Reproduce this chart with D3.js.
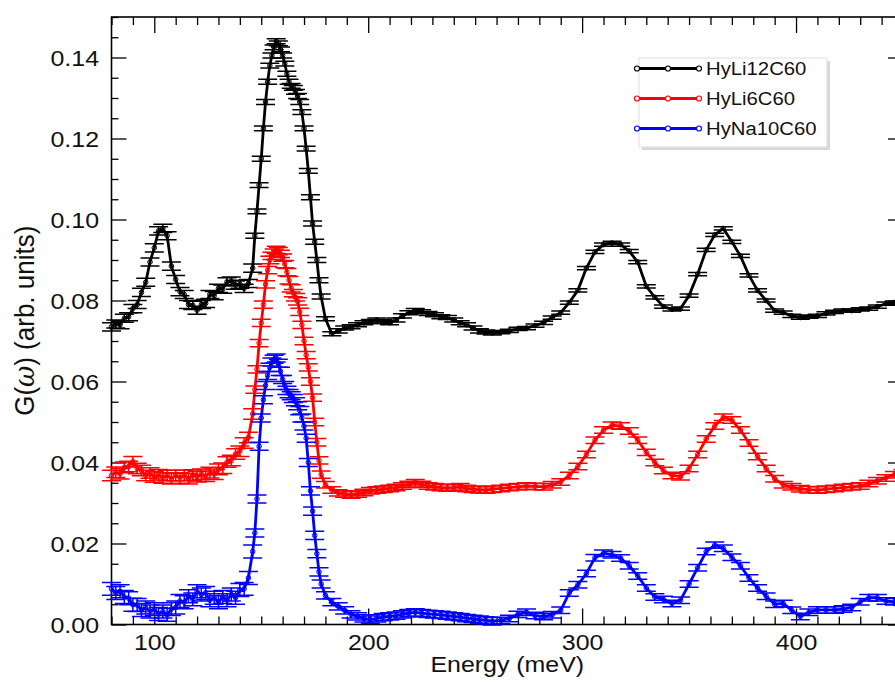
<!DOCTYPE html>
<html><head><meta charset="utf-8">
<script src="https://cdn.jsdelivr.net/npm/d3@7"></script>
<style>body{margin:0;background:#fff}svg{display:block}</style>
</head><body><svg id="c" width="895" height="682"></svg>
<script>
// ---------- data ----------
const energies = [
 80,82,84,86,88,90,92,94,96,98,100,102,104,106,108,110,112,114,116,118,120,122,124,126,128,130,132,134,136,138,140,142,144,146,
 147,148,149,150,151,152,153,154,155,156,157,158,159,160,161,162,163,164,165,166,167,168,169,170,171,172,173,174,175,176,177,178,
 180,183,186,189,192,195,198,201,204,207,210,213,216,219,222,225,228,231,234,237,240,243,246,249,252,255,258,
 262,266,270,274,278,282,286,290,294,298,302,306,310,314,318,322,326,330,334,338,342,346,350,354,358,362,366,370,374,378,382,386,390,394,398,402,406,410,414,418,422,426,430,434,438,442,446,450
];
const hyLi12C60 = [
 0.0735,0.0742,0.0740,0.0756,0.0760,0.0780,0.0790,0.0820,0.0845,0.0895,0.0930,0.0972,0.0978,0.0960,0.0885,0.0852,0.0822,0.0815,0.0790,0.0788,0.0776,0.0790,0.0793,0.0815,0.0812,0.0830,0.0828,0.0846,0.0848,0.0838,0.0840,0.0830,0.0842,0.0880,
 0.0960,0.1020,0.1085,0.1150,0.1225,0.1290,0.1340,0.1380,0.1405,0.1425,0.1440,0.1435,0.1420,0.1405,0.1385,0.1360,0.1340,0.1330,0.1325,0.1315,0.1305,0.1290,0.1265,0.1225,0.1175,0.1120,0.1055,0.0990,0.0945,0.0900,0.0850,0.0810,
 0.0755,0.0718,0.0725,0.0732,0.0735,0.0740,0.0745,0.0748,0.0752,0.0748,0.0745,0.0752,0.0762,0.0770,0.0775,0.0772,0.0768,0.0765,0.0760,0.0758,0.0752,0.0745,0.0740,0.0732,0.0725,0.0722,0.0720,
 0.0722,0.0725,0.0730,0.0732,0.0738,0.0745,0.0758,0.0770,0.0795,0.0825,0.0880,0.0920,0.0938,0.0942,0.0938,0.0922,0.0895,0.0835,0.0808,0.0785,0.0778,0.0780,0.0812,0.0865,0.0925,0.0962,0.0978,0.0945,0.0910,0.0862,0.0825,0.0800,0.0775,0.0770,0.0762,0.0758,0.0760,0.0762,0.0768,0.0772,0.0775,0.0775,0.0778,0.0780,0.0785,0.0792,0.0795,0.0795
];
const hyLi6C60 = [
 0.0368,0.0376,0.0372,0.0388,0.0390,0.0402,0.0385,0.0380,0.0368,0.0374,0.0364,0.0370,0.0362,0.0368,0.0360,0.0368,0.0362,0.0368,0.0360,0.0369,0.0365,0.0371,0.0366,0.0375,0.0371,0.0383,0.0386,0.0401,0.0405,0.0421,0.0428,0.0448,0.0462,0.0520,
 0.0580,0.0630,0.0695,0.0745,0.0790,0.0840,0.0875,0.0900,0.0910,0.0918,0.0925,0.0922,0.0915,0.0906,0.0890,0.0870,0.0850,0.0830,0.0818,0.0808,0.0798,0.0772,0.0740,0.0700,0.0665,0.0635,0.0600,0.0560,0.0500,0.0450,0.0405,0.0370,
 0.0345,0.0332,0.0325,0.0322,0.0320,0.0322,0.0326,0.0330,0.0332,0.0334,0.0336,0.0338,0.0342,0.0346,0.0350,0.0346,0.0342,0.0340,0.0338,0.0337,0.0338,0.0340,0.0336,0.0334,0.0333,0.0332,0.0334,
 0.0336,0.0338,0.0340,0.0342,0.0341,0.0340,0.0345,0.0352,0.0368,0.0390,0.0420,0.0455,0.0480,0.0492,0.0490,0.0478,0.0455,0.0425,0.0400,0.0380,0.0368,0.0365,0.0385,0.0420,0.0458,0.0490,0.0512,0.0505,0.0480,0.0448,0.0415,0.0385,0.0360,0.0345,0.0340,0.0335,0.0333,0.0332,0.0334,0.0336,0.0338,0.0340,0.0342,0.0348,0.0355,0.0362,0.0370,0.0375
];
const hyNa10C60 = [
 0.0088,0.0078,0.0082,0.0068,0.0065,0.0049,0.0048,0.0036,0.0042,0.0032,0.0038,0.0026,0.0032,0.0024,0.0038,0.0042,0.0058,0.0055,0.0070,0.0062,0.0082,0.0074,0.0078,0.0060,0.0066,0.0055,0.0068,0.0060,0.0074,0.0066,0.0085,0.0088,0.0115,0.0180,
 0.0226,0.0310,0.0440,0.0510,0.0555,0.0590,0.0615,0.0635,0.0648,0.0655,0.0658,0.0645,0.0625,0.0605,0.0590,0.0578,0.0570,0.0565,0.0558,0.0550,0.0540,0.0528,0.0510,0.0490,0.0460,0.0400,0.0330,0.0280,0.0220,0.0175,0.0130,0.0100,
 0.0072,0.0055,0.0045,0.0035,0.0025,0.0020,0.0015,0.0012,0.0015,0.0018,0.0020,0.0022,0.0025,0.0028,0.0030,0.0028,0.0026,0.0025,0.0024,0.0022,0.0020,0.0018,0.0016,0.0014,0.0012,0.0010,0.0008,
 0.0010,0.0015,0.0025,0.0030,0.0022,0.0020,0.0024,0.0035,0.0078,0.0098,0.0126,0.0165,0.0176,0.0172,0.0164,0.0145,0.0120,0.0090,0.0068,0.0062,0.0052,0.0060,0.0100,0.0140,0.0180,0.0196,0.0188,0.0166,0.0145,0.0115,0.0090,0.0070,0.0050,0.0052,0.0035,0.0020,0.0030,0.0036,0.0036,0.0036,0.0038,0.0042,0.0056,0.0066,0.0066,0.0058,0.0056,0.0055
];
// error bar half-heights, one level per energy band (bands split at errBreaks)
const errBreaks = [146.5, 179, 260];
const hyLi12C60Err = [0.0010, 0.0006, 0.0005, 0.0004];
const hyLi6C60Err  = [0.0013, 0.0009, 0.0008, 0.0008];
const hyNa10C60Err = [0.0016, 0.0010, 0.0009, 0.0008];
const seriesNames = ["HyLi12C60", "HyLi6C60", "HyNa10C60"];
const seriesColors = ["#000000", "#ff0000", "#0000ff"];
const xTicks = [100, 200, 300, 400];
const yTicks = [0, 0.02, 0.04, 0.06, 0.08, 0.10, 0.12, 0.14];
const yTickLabels = ["0.00","0.02","0.04","0.06","0.08","0.10","0.12","0.14"];
const xLabel = "Energy (meV)";

// ---------- layout ----------
const L = 111.5, R = 903, T = 17, B = 624.5;
const SX = 1.16; // horizontal text stretch
const FONT = "'Liberation Sans', Arial, Helvetica, sans-serif";
const svg = d3.select("#c");
const x = d3.scaleLinear().domain([80, 450]).range([L, R]);
const y = d3.scaleLinear().domain([0, 0.15]).range([B, T]);
const xMinor = d3.range(80, 451, 10).filter(v => !xTicks.includes(v));
const yMinor = d3.range(0, 0.1501, 0.005).filter(v => !yTicks.some(t => Math.abs(t - v) < 1e-6));

function styleAxis(g) {
  g.select(".domain").remove();
  g.selectAll(".tick line").attr("stroke", "#000").attr("stroke-width", 1.3);
}
// bottom
svg.append("g").attr("transform", `translate(0,${B})`)
  .call(d3.axisBottom(x).tickValues(xMinor).tickSize(-8).tickFormat("")).call(styleAxis);
const gb = svg.append("g").attr("transform", `translate(0,${B})`)
  .call(d3.axisBottom(x).tickValues(xTicks).tickSize(-16).tickFormat(d3.format("d"))).call(styleAxis);
gb.selectAll("text").attr("y", 25.5).attr("dy", null)
  .attr("font-family", FONT).attr("font-size", 21.5).attr("fill", "#111")
  .attr("transform", `scale(${SX},1)`);
// top
svg.append("g").attr("transform", `translate(0,${T})`)
  .call(d3.axisTop(x).tickValues(xMinor).tickSize(-8).tickFormat("")).call(styleAxis);
svg.append("g").attr("transform", `translate(0,${T})`)
  .call(d3.axisTop(x).tickValues(xTicks).tickSize(-16).tickFormat("")).call(styleAxis);
// left
svg.append("g").attr("transform", `translate(${L},0)`)
  .call(d3.axisLeft(y).tickValues(yMinor).tickSize(-7).tickFormat("")).call(styleAxis);
const gl = svg.append("g").attr("transform", `translate(${L},0)`)
  .call(d3.axisLeft(y).tickValues(yTicks).tickSize(-15).tickFormat((d, i) => yTickLabels[i])).call(styleAxis);
gl.selectAll("text").attr("x", -12.5 / SX).attr("dy", "7.5px")
  .attr("font-family", FONT).attr("font-size", 21.5).attr("fill", "#111")
  .attr("transform", `scale(${SX},1)`);
// right
svg.append("g").attr("transform", `translate(${R},0)`)
  .call(d3.axisRight(y).tickValues(yMinor).tickSize(-7).tickFormat("")).call(styleAxis);
svg.append("g").attr("transform", `translate(${R},0)`)
  .call(d3.axisRight(y).tickValues(yTicks).tickSize(-15).tickFormat("")).call(styleAxis);
// frame
svg.append("rect").attr("x", L).attr("y", T).attr("width", R - L).attr("height", B - T)
  .attr("fill", "none").attr("stroke", "#000").attr("stroke-width", 1.6);

// axis titles
svg.append("text").attr("transform", `translate(${(L + R) / 2},672) scale(${SX},1)`)
  .attr("text-anchor", "middle").attr("font-family", FONT).attr("font-size", 21.5).attr("fill", "#111")
  .text(xLabel);
const yl = svg.append("text").attr("transform", `translate(34,${(T + B) / 2}) scale(1.06,1) rotate(-90)`)
  .attr("text-anchor", "middle").attr("font-family", FONT).attr("font-size", 26).attr("fill", "#111");
yl.append("tspan").text("G(");
yl.append("tspan").attr("font-style", "italic").attr("font-family", "'DejaVu Serif', serif").text("ω");
yl.append("tspan").text(") (arb. units)");

// ---------- series ----------
const allSeries = [
  { name: seriesNames[0], color: seriesColors[0], vals: hyLi12C60, err: hyLi12C60Err },
  { name: seriesNames[1], color: seriesColors[1], vals: hyLi6C60, err: hyLi6C60Err },
  { name: seriesNames[2], color: seriesColors[2], vals: hyNa10C60, err: hyNa10C60Err }
];
const cap = 9.5;
const line = d3.line().x(d => x(d.e)).y(d => y(d.v));
allSeries.forEach(s => {
  const pts = energies.map((e, i) => ({ e, v: s.vals[i], er: s.err[d3.bisectRight(errBreaks, e)] }));
  const g = svg.append("g");
  const eb = g.append("g").attr("stroke", s.color).attr("stroke-width", 1.5).attr("fill", "none");
  eb.selectAll("path").data(pts).join("path")
    .attr("d", d => {
      const cx = x(d.e), y0 = y(d.v - d.er), y1 = y(d.v + d.er);
      return `M${cx},${y0}V${y1}M${cx - cap},${y0}H${cx + cap}M${cx - cap},${y1}H${cx + cap}`;
    });
  g.append("path").datum(pts).attr("d", line).attr("fill", "none")
    .attr("stroke", s.color).attr("stroke-width", 2.8).attr("stroke-linejoin", "round");
  g.append("g").selectAll("circle").data(pts).join("circle")
    .attr("cx", d => x(d.e)).attr("cy", d => y(d.v)).attr("r", 2.3)
    .attr("fill", "none").attr("stroke", s.color).attr("stroke-width", 1);
});

// ---------- legend ----------
const lg = svg.append("g");
lg.append("rect").attr("x", 642).attr("y", 61).attr("width", 188).attr("height", 89).attr("fill", "#d8d8d8");
lg.append("rect").attr("x", 639).attr("y", 58).attr("width", 188).attr("height", 89)
  .attr("fill", "#fff").attr("stroke", "#e0e0e0").attr("stroke-width", 1);
allSeries.forEach((s, i) => {
  const yy = 68.5 + i * 30;
  lg.append("line").attr("x1", 637).attr("x2", 699).attr("y1", yy).attr("y2", yy)
    .attr("stroke", s.color).attr("stroke-width", 2.8);
  [637, 668, 699].forEach(cx => lg.append("circle").attr("cx", cx).attr("cy", yy).attr("r", 2.5)
    .attr("fill", "#fff").attr("stroke", s.color).attr("stroke-width", 1.2));
  lg.append("text").attr("transform", `translate(706,${yy + 6.3}) scale(${SX},1)`)
    .attr("font-family", FONT).attr("font-size", 17.5).attr("fill", "#111").text(s.name);
});
</script></body></html>
